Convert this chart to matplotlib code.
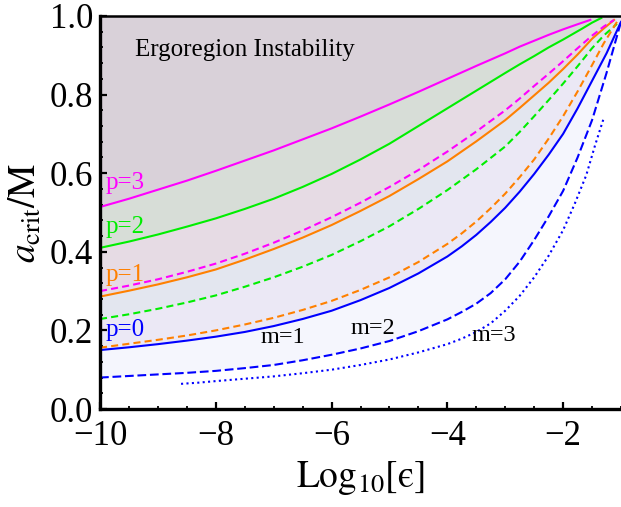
import numpy as np
import matplotlib
matplotlib.use("Agg")
import matplotlib.pyplot as plt
from matplotlib.ticker import MultipleLocator

plt.rcParams['font.family'] = ['Liberation Serif', 'DejaVu Serif']
plt.rcParams['mathtext.fontset'] = 'stix'

# ---- data ----
p3_x = [-10, -9.5, -9, -8.5, -8, -7.5, -7, -6.5, -6, -5.5, -5, -4.5, -4, -3.5, -3, -2.75, -2.5, -2.25, -2, -1.75, -1.53]
p3_y = [0.514, 0.535, 0.558, 0.581, 0.606, 0.632, 0.658, 0.686, 0.714, 0.744, 0.775, 0.807, 0.840, 0.873, 0.905, 0.922, 0.937, 0.952, 0.966, 0.979, 0.99]

p2_x = [-10, -9.5, -9, -8.5, -8, -7.5, -7, -6.5, -6, -5.5, -5, -4.5, -4, -3.5, -3, -2.75, -2.5, -2.25, -2, -1.67, -1.5, -1.34]
p2_y = [0.410, 0.426, 0.444, 0.464, 0.485, 0.509, 0.535, 0.565, 0.598, 0.635, 0.675, 0.72, 0.765, 0.81, 0.855, 0.877, 0.898, 0.92, 0.940, 0.968, 0.983, 0.995]

p3d_x = [-10, -9.5, -9, -8.5, -8, -7.5, -7, -6.5, -6, -5.5, -5, -4.5, -4, -3.5, -3, -2.75, -2.5, -2.25, -2, -1.75, -1.5, -1.3, -1.12]
p3d_y = [0.300, 0.314, 0.330, 0.349, 0.370, 0.395, 0.423, 0.454, 0.488, 0.525, 0.565, 0.608, 0.655, 0.706, 0.760, 0.79, 0.822, 0.853, 0.885, 0.918, 0.950, 0.973, 0.99]

p1_x = [-10, -9.5, -9, -8.5, -8, -7.5, -7, -6.5, -6, -5.5, -5, -4.5, -4, -3.5, -3, -2.75, -2.5, -2.25, -2, -1.75, -1.5, -1.3, -1.12]
p1_y = [0.286, 0.301, 0.317, 0.335, 0.355, 0.38, 0.407, 0.436, 0.468, 0.504, 0.542, 0.585, 0.630, 0.681, 0.735, 0.766, 0.798, 0.83, 0.865, 0.902, 0.942, 0.968, 0.99]

p2d_x = [-10, -9.5, -9, -8.5, -8, -7.5, -7, -6.5, -6, -5.5, -5, -4.5, -4, -3.5, -3, -2.75, -2.5, -2.25, -2, -1.75, -1.5, -1.3, -1.07]
p2d_y = [0.229, 0.241, 0.255, 0.271, 0.289, 0.311, 0.335, 0.362, 0.392, 0.427, 0.465, 0.509, 0.557, 0.61, 0.668, 0.705, 0.745, 0.786, 0.828, 0.872, 0.918, 0.95, 0.98]

p1d_x = [-10, -9.5, -9, -8.5, -8, -7.5, -7, -6.5, -6, -5.5, -5, -4.5, -4, -3.75, -3.5, -3.25, -3, -2.75, -2.5, -2.25, -2, -1.75, -1.5, -1.3, -1.07]
p1d_y = [0.156, 0.166, 0.176, 0.187, 0.200, 0.215, 0.232, 0.252, 0.275, 0.303, 0.335, 0.374, 0.420, 0.447, 0.477, 0.511, 0.548, 0.59, 0.635, 0.688, 0.745, 0.808, 0.875, 0.93, 0.985]

p0_x = [-10, -9.5, -9, -8.5, -8, -7.5, -7, -6.5, -6, -5.5, -5, -4.5, -4, -3.75, -3.5, -3.25, -3, -2.75, -2.5, -2.25, -2, -1.75, -1.5, -1.25, -1.0]
p0_y = [0.150, 0.157, 0.165, 0.174, 0.184, 0.196, 0.211, 0.229, 0.250, 0.277, 0.308, 0.345, 0.388, 0.414, 0.443, 0.476, 0.512, 0.553, 0.598, 0.647, 0.700, 0.765, 0.835, 0.905, 0.985]

m2_x = [-10, -9.5, -9, -8.5, -8, -7.5, -7, -6.5, -6, -5.5, -5, -4.5, -4, -3.75, -3.5, -3.25, -3, -2.75, -2.5, -2.25, -2, -1.75, -1.5, -1.25, -1.0]
m2_y = [0.080, 0.084, 0.088, 0.092, 0.097, 0.104, 0.112, 0.124, 0.138, 0.154, 0.173, 0.198, 0.228, 0.247, 0.268, 0.295, 0.33, 0.375, 0.43, 0.49, 0.555, 0.64, 0.735, 0.855, 0.985]

m3_x = [-8.6, -8.3, -8, -7.5, -7, -6.5, -6, -5.5, -5, -4.5, -4, -3.75, -3.5, -3.25, -3, -2.75, -2.5, -2.25, -2, -1.8, -1.6, -1.45, -1.29]
m3_y = [0.064, 0.067, 0.071, 0.077, 0.083, 0.091, 0.100, 0.112, 0.126, 0.144, 0.165, 0.179, 0.196, 0.218, 0.25, 0.288, 0.335, 0.39, 0.455, 0.522, 0.595, 0.67, 0.744]

p_labels = ['p=3', 'p=2', 'p=1', 'p=0']
p_label_y = [0.575, 0.463, 0.341, 0.20]
m_labels = ['m=1', 'm=2', 'm=3']
m_label_x = [-6.84, -5.29, -3.19]
m_label_y = [0.183, 0.206, 0.188]

MAG = '#ff00ff'
GRN = '#00ee00'
ORG = '#ff8000'
BLU = '#0000ff'

fig = plt.figure(figsize=(6.21, 5.07), dpi=100)
ax = fig.add_axes([100/621, 1-409/507, 1-100/621, (409-16)/507])
ax.set_xlim(-10, -1.0)
ax.set_ylim(0, 1.0)

def band(xs, ys, color):
    px = list(xs) + [xs[-1], xs[0]]
    py = list(ys) + [1.0, 1.0]
    ax.fill(px, py, color=color, lw=0, zorder=1)

band(m2_x, m2_y, '#f5f6fd')
band(p0_x, p0_y, '#ebe8f5')
band(p2d_x, p2d_y, '#e3e6ef')
band(p1_x, p1_y, '#e6dbe4')
band(p2_x, p2_y, '#d7ddd7')
band(p3_x, p3_y, '#d9d1d9')

lw = 1.5
solid_kw = dict(lw=lw, zorder=3, solid_joinstyle='round')
dash = (0, (3.4, 2.0))
ax.plot(p3_x, p3_y, color=MAG, **solid_kw)
ax.plot(p2_x, p2_y, color=GRN, **solid_kw)
ax.plot(p1_x, p1_y, color=ORG, **solid_kw)
ax.plot(p0_x, p0_y, color=BLU, **solid_kw)
ax.plot(p3d_x, p3d_y, color=MAG, lw=lw, ls=dash, zorder=3)
ax.plot(p2d_x, p2d_y, color=GRN, lw=lw, ls=dash, zorder=3)
ax.plot(p1d_x, p1d_y, color=ORG, lw=lw, ls=dash, zorder=3)
ax.plot(m2_x, m2_y, color=BLU, lw=lw, ls=(0, (4.2, 1.8)), zorder=3)
ax.plot(m3_x, m3_y, color=BLU, lw=lw, ls=(0, (1, 1.6)), zorder=3)

ax.text(-9.40, 0.913, 'Ergoregion Instability', fontsize=18, color='black',
        ha='left', va='center', zorder=4)
for lab, y, c in zip(p_labels, p_label_y, [MAG, GRN, ORG, BLU]):
    ax.text(-9.90, y, lab, fontsize=18, color=c, ha='left', va='center', zorder=4)
for lab, x, y in zip(m_labels, m_label_x, m_label_y):
    ax.text(x, y, lab, fontsize=17.5, color='black', ha='center', va='center', zorder=4)

ax.spines['right'].set_visible(False)
for s in ['left', 'bottom']:
    ax.spines[s].set_linewidth(2.4)
ax.spines['top'].set_linewidth(1.8)
for s in ax.spines.values():
    s.set_zorder(5)

ax.xaxis.set_major_locator(MultipleLocator(2))
ax.xaxis.set_minor_locator(MultipleLocator(0.5))
ax.yaxis.set_major_locator(MultipleLocator(0.2))
ax.yaxis.set_minor_locator(MultipleLocator(0.04))
ax.tick_params(which='both', direction='in', top=False, right=False)
ax.tick_params(which='major', length=5, width=1.6, labelsize=25)
ax.tick_params(axis='x', which='major', pad=8)
ax.tick_params(axis='y', which='major', pad=5)
ax.tick_params(which='minor', length=2.5, width=1.3)
ax.set_xticks([-10, -8, -6, -4, -2])
ax.set_xticklabels(['\u221210', '\u22128', '\u22126', '\u22124', '\u22122'])
ax.set_yticks([0.0, 0.2, 0.4, 0.6, 0.8, 1.0])
ax.set_yticklabels(['0.0', '0.2', '0.4', '0.6', '0.8', '1.0'])

ax.set_xlabel('$\\mathrm{Log}_{10}[\\mathrm{\u03f5}]$', fontsize=27, labelpad=4)
ax.set_ylabel(r'$a_{\mathrm{crit}}/\mathrm{M}$', fontsize=27, labelpad=4)

fig.savefig('out.png', dpi=100)
